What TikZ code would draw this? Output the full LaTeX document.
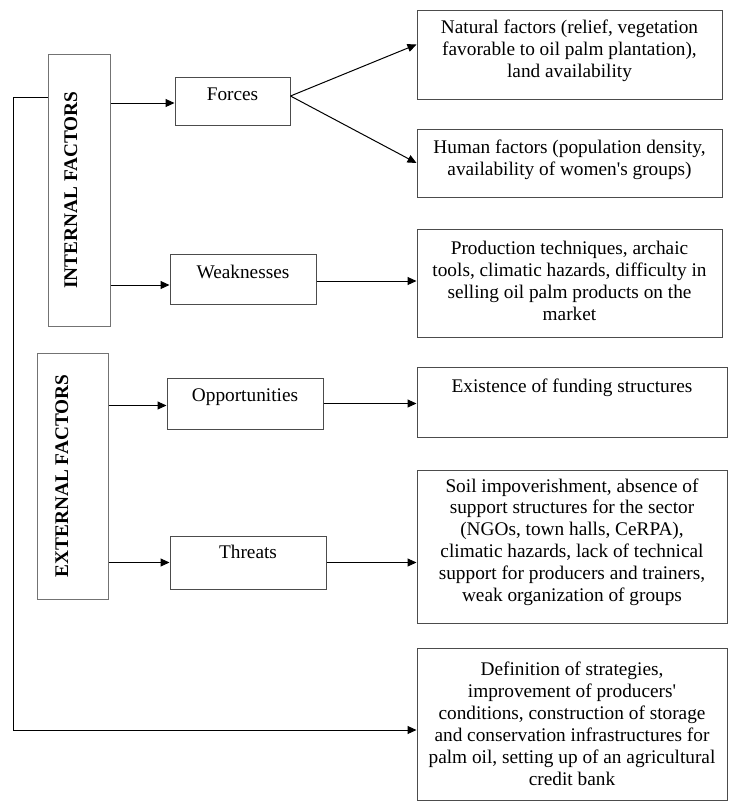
\documentclass[tikz,border=0pt]{standalone}
\usepackage{fontspec}
\setmainfont{Liberation Serif}
\usetikzlibrary{arrows.meta}
\newcommand{\lowpad}[1]{\rule[-#1]{0pt}{0pt}}

\begin{document}
\begin{tikzpicture}[x=1pt, y=-1pt, line width=1pt,
    font=\fontsize{19.3pt}{21.9pt}\selectfont,
    >={Triangle[length=9pt,width=8pt]},
    side/.style={draw=black!55, rotate=90, inner sep=0pt,
      font=\fontsize{19.3pt}{21.9pt}\selectfont\bfseries},
    item/.style={draw=black!70, inner sep=0pt, text height=23pt, minimum width=#1},
    info/.style={draw=black!70, inner sep=0pt, align=center, minimum width=305pt, minimum height=#1}]
      \useasboundingbox (0,0) rectangle (731,804);
      \node [side, minimum width=272pt, text height=29pt, text depth=33pt] (1) at (79,190) {INTERNAL FACTORS};
      \node [item=115pt, text depth=25pt] (2) at (232.5,101) {Forces};
      \node [info=89pt] (3) at (569.5,54.5) {Natural factors (relief, vegetation\\favorable to oil palm plantation),\\land availability\lowpad{11pt}};
      \node [info=68pt] (4) at (569.5,163) {Human factors (population density,\\availability of women\textquotesingle s groups)\lowpad{11pt}};
      \node [item=146pt, text height=24pt, text depth=26pt] (5) at (243,279) {Weaknesses};
      \node [info=108pt] (6) at (569.5,283) {Production techniques, archaic\\tools, climatic hazards, difficulty in\\selling oil palm products on the\\market\lowpad{4pt}};

      \node [side, minimum width=246pt, text height=31pt, text depth=40pt] (7) at (72.5,476) {EXTERNAL FACTORS};
      \node [item=156pt, text depth=28pt] (8) at (245,403.5) {Opportunities};
      \node [item=310pt, text height=25pt, text depth=45pt] (9) at (572,402) {Existence of funding structures};
      \node [item=156pt, text height=22pt, text depth=31pt] (10) at (248,562.5) {Threats};
      \node [info=153pt, minimum width=310pt] (11) at (572,546.5) {Soil impoverishment, absence of\\support structures for the sector\\(NGOs, town halls, CeRPA),\\climatic hazards, lack of technical\\support for producers and trainers,\\weak organization of groups\lowpad{13pt}};
      \node [info=152pt, minimum width=310pt] (12) at (572,724) {Definition of strategies,\\improvement of producers\textquotesingle\\conditions, construction of storage\\and conservation infrastructures for\\palm oil, setting up of an agricultural\\credit bank};

      \draw[->] ([yshift=-2pt]2.west -| 1.south) -- ([yshift=-2pt]2.west);
      \draw[->] ([yshift=5pt]2.east) -- ([yshift=10pt]3.west);
      \draw[->] ([yshift=5pt]2.east) -- (4.west);
      \draw[->] ([yshift=-6pt]5.west -| 1.south) -- ([yshift=-6pt]5.west);
      \draw[->] ([yshift=-2pt]5.east) -- ([yshift=-2pt]5.east -| 6.west);
      \draw[->] ([yshift=-2pt]8.west -| 7.south) -- ([yshift=-2pt]8.west);
      \draw[->] (8.east) -- (8.east -| 9.west);
      \draw[->] (7.south |- 10) -- (10);
      \draw[->] (10.east) -- (10.east -| 11.west);
      \draw[->] ([yshift=93pt]1.north) -- ++(-34,0) |- ([yshift=-6pt]12.west);
    \end{tikzpicture}
\end{document}
